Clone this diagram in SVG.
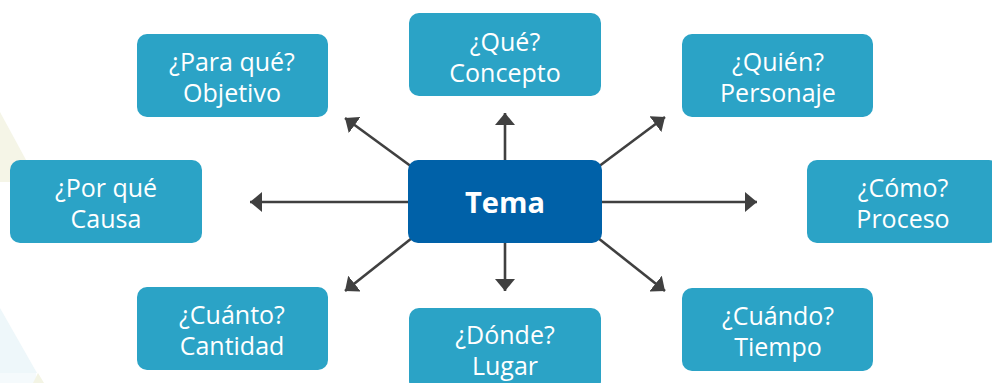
<svg xmlns="http://www.w3.org/2000/svg" width="992" height="383" viewBox="0 0 992 383">
  <style>
    .box { fill: #2BA3C6; }
    .lbl { font-family: "Open Sans", "Noto Sans", "DejaVu Sans", sans-serif; font-size: 25px; fill: #FFFFFF; text-anchor: middle; }
    .main { font-family: "Open Sans", "Noto Sans", "DejaVu Sans", sans-serif; font-size: 29px; font-weight: bold; fill: #FFFFFF; text-anchor: middle; }
    .con { stroke: #404040; stroke-width: 2.6; fill: none; marker-end: url(#arr); }
  </style>
  <defs>
    <marker id="arr" markerUnits="userSpaceOnUse" markerWidth="12" markerHeight="20" refX="12" refY="10" orient="auto">
      <path d="M0,0 L12,10 L0,20 z" fill="#404040"/>
    </marker>
  </defs>
  <rect width="992" height="383" fill="#FFFFFF"/>
  <g id="background">
    <polygon points="0,112 38,182 0,182" fill="#F5F5E7"/>
    <polygon points="0,308 37,373 0,373" fill="#EEF7FA"/>
    <rect x="0" y="373" width="36" height="10" fill="#F5FAFC"/>
    <polygon points="38,373 44,383 33,383" fill="#F3F4E4"/>
  </g>
  <g id="connectors">
    <line class="con" x1="505" y1="160" x2="505" y2="113"/>
    <line class="con" x1="505" y1="243" x2="505" y2="291"/>
    <line class="con" x1="602" y1="202" x2="757" y2="202"/>
    <line class="con" x1="408" y1="202" x2="250" y2="202"/>
    <line class="con" x1="598" y1="167" x2="665" y2="117"/>
    <line class="con" x1="598" y1="238" x2="665" y2="291"/>
    <line class="con" x1="412" y1="167" x2="345" y2="118"/>
    <line class="con" x1="412" y1="238" x2="345" y2="291"/>
  </g>
  <g id="node-tema">
    <rect x="408" y="160" width="194" height="83" rx="10" fill="#0061A8"/>
    <text class="main" x="505" y="213">Tema</text>
  </g>
  <g id="node-que">
    <rect class="box" x="409" y="13" width="192" height="83" rx="10"/>
    <text class="lbl" x="505" y="50.5">¿Qué?</text>
    <text class="lbl" x="505" y="81.5">Concepto</text>
  </g>
  <g id="node-paraque">
    <rect class="box" x="137" y="34" width="191" height="83" rx="10"/>
    <text class="lbl" x="232" y="70.5">¿Para qué?</text>
    <text class="lbl" x="232" y="101.5">Objetivo</text>
  </g>
  <g id="node-quien">
    <rect class="box" x="682" y="34" width="191" height="83" rx="10"/>
    <text class="lbl" x="778" y="70.5">¿Quién?</text>
    <text class="lbl" x="778" y="101.5">Personaje</text>
  </g>
  <g id="node-porque">
    <rect class="box" x="10" y="160" width="192" height="83" rx="10"/>
    <text class="lbl" x="106" y="196.5">¿Por qué</text>
    <text class="lbl" x="106" y="227.5">Causa</text>
  </g>
  <g id="node-como">
    <rect class="box" x="807" y="160" width="192" height="83" rx="10"/>
    <text class="lbl" x="903" y="196.5">¿Cómo?</text>
    <text class="lbl" x="903" y="227.5">Proceso</text>
  </g>
  <g id="node-cuanto">
    <rect class="box" x="137" y="287" width="191" height="83" rx="10"/>
    <text class="lbl" x="232" y="323.5">¿Cuánto?</text>
    <text class="lbl" x="232" y="354.5">Cantidad</text>
  </g>
  <g id="node-donde">
    <rect class="box" x="409" y="308" width="192" height="83" rx="10"/>
    <text class="lbl" x="505" y="343.5">¿Dónde?</text>
    <text class="lbl" x="505" y="374.5">Lugar</text>
  </g>
  <g id="node-cuando">
    <rect class="box" x="682" y="288" width="191" height="83" rx="10"/>
    <text class="lbl" x="778" y="324.5">¿Cuándo?</text>
    <text class="lbl" x="778" y="355.5">Tiempo</text>
  </g>
</svg>
